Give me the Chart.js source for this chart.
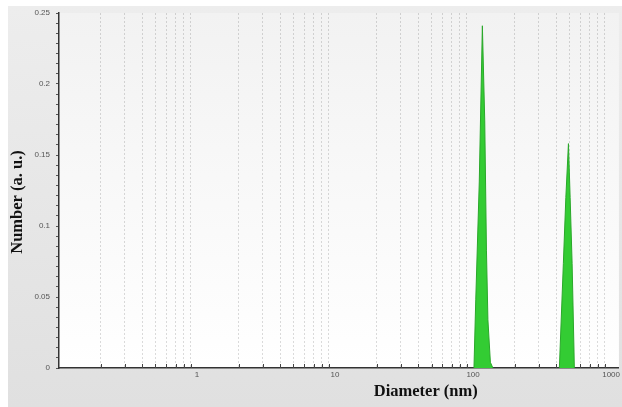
<!DOCTYPE html>
<html>
<head>
<meta charset="utf-8">
<script src="https://cdn.jsdelivr.net/npm/chart.js@4"></script>
<style>
  html, body { margin: 0; padding: 0; background: #fff; }
  #wrap { width: 622px; height: 407px; }
</style>
</head>
<body>
<div id="wrap"><canvas id="sizeChart" width="622" height="407"></canvas></div>
<script>
// --- data ---
const peak1Diameter = [101.5, 104.6, 110.9, 116.8, 121.5, 125.0, 128.1, 133.5, 139.2];
const peak1Number   = [0, 0.048, 0.131, 0.241, 0.174, 0.083, 0.034, 0.004, 0];
const peak2Diameter = [422.0, 451.0, 470.0, 491.0, 505.0, 522.0, 542.0];
const peak2Number   = [0, 0.0735, 0.120, 0.158, 0.120, 0.0735, 0];

const xDecades = [0.1, 1, 10, 100];
const xMinorSteps = [2, 3, 4, 5, 6, 7, 8, 9];
const xTickLabels = ['1', '10', '100', '1000'];
const yTickLabels = ['0', '0.05', '0.1', '0.15', '0.2', '0.25'];
const yMinorPerMajor = 7;

const X_MIN = 0.1, X_MAX = 1140, Y_MAX = 0.25;

// tick values for the log axis (minor ticks + labelled decades)
const xTickValues = [];
xDecades.forEach(d => {
    if (d >= 1) xTickValues.push(d);
    xMinorSteps.forEach(m => xTickValues.push(+(d * m).toPrecision(3)));
});
xTickValues.push(1000);
const isDecade = v => xTickLabels.includes(String(v));

const yTickValues = [];
for (let i = 0; i <= (yTickLabels.length - 1) * yMinorPerMajor; i++) {
    yTickValues.push(Y_MAX * i / ((yTickLabels.length - 1) * yMinorPerMajor));
}

const toPoints = (xs, ys) => xs.map((x, i) => ({ x: x, y: ys[i] }));

// background frame, inside tick marks and axis titles
const framePlugin = {
    id: 'frame',
    beforeDraw(chart) {
        const { ctx, chartArea: a, width, height } = chart;
        ctx.save();
        ctx.fillStyle = '#fff';
        ctx.fillRect(0, 0, width, height);
        let g = ctx.createLinearGradient(0, 6, 0, height);
        g.addColorStop(0, '#ededed');
        g.addColorStop(1, '#e0e0e0');
        ctx.fillStyle = g;
        ctx.fillRect(8, 6, width - 8, height - 6);
        g = ctx.createLinearGradient(0, a.top, 0, a.bottom);
        g.addColorStop(0, '#f2f2f2');
        g.addColorStop(1, '#ffffff');
        ctx.fillStyle = g;
        ctx.fillRect(a.left, a.top, a.right - a.left, a.bottom - a.top);
        ctx.restore();
    },
    beforeDatasetsDraw(chart) {
        const { ctx, chartArea: a } = chart;
        const xs = chart.scales.x;
        ctx.save();
        ctx.strokeStyle = '#444';
        ctx.lineWidth = 1;
        xs.ticks.forEach(t => {
            if (isDecade(t.value)) return;
            const px = Math.round(xs.getPixelForValue(t.value)) + 0.5;
            ctx.beginPath();
            ctx.moveTo(px, a.bottom);
            ctx.lineTo(px, a.bottom - 4);
            ctx.stroke();
        });
        ctx.restore();
    },
    afterDraw(chart) {
        const { ctx, chartArea: a } = chart;
        ctx.save();
        ctx.fillStyle = '#111';
        ctx.font = 'bold 16.5px "Liberation Serif", "Times New Roman", serif';
        ctx.textAlign = 'center';
        ctx.textBaseline = 'middle';
        ctx.fillText('Diameter (nm)', a.left + (a.right - a.left) * 0.655, 392);
        ctx.translate(18, 202);
        ctx.rotate(-Math.PI / 2);
        ctx.fillText('Number (a. u.)', 0, 0);
        ctx.restore();
    }
};

function initChart() {
    const ctx = document.getElementById('sizeChart').getContext('2d');
    const peakStyle = {
        showLine: true,
        fill: 'origin',
        backgroundColor: '#33cc33',
        borderColor: '#2aa82a',
        borderWidth: 1,
        pointRadius: 0,
        tension: 0
    };
    return new Chart(ctx, {
        type: 'scatter',
        data: {
            datasets: [
                Object.assign({ data: toPoints(peak1Diameter, peak1Number) }, peakStyle),
                Object.assign({ data: toPoints(peak2Diameter, peak2Number) }, peakStyle)
            ]
        },
        plugins: [framePlugin],
        options: {
            responsive: false,
            animation: false,
            devicePixelRatio: 1,
            layout: { padding: { left: 0, top: 13, right: 1, bottom: 0 } },
            plugins: { legend: { display: false }, tooltip: { enabled: false } },
            scales: {
                x: {
                    type: 'logarithmic',
                    min: X_MIN,
                    max: X_MAX,
                    afterBuildTicks: s => { s.ticks = xTickValues.map(v => ({ value: v })); },
                    afterFit: s => { s.height = 39; },
                    // in v4 border.dash styles the grid lines, the axis line stays solid
                    border: { color: '#333', width: 1.5, dash: [2, 2] },
                    grid: {
                        drawTicks: false,
                        lineWidth: 1,
                        color: c => (c.tick && isDecade(c.tick.value)) ? 'rgba(0,0,0,0)' : 'rgba(0,0,0,0.14)'
                    },
                    ticks: {
                        autoSkip: false,
                        maxRotation: 0,
                        padding: 2,
                        color: '#555',
                        font: { family: '"Liberation Sans", Arial, sans-serif', size: 8 },
                        callback: v => isDecade(v) ? String(v) : ''
                    }
                },
                y: {
                    min: 0,
                    max: Y_MAX,
                    afterBuildTicks: s => { s.ticks = yTickValues.map(v => ({ value: v })); },
                    afterFit: s => { s.width = 59; },
                    border: { color: '#333', width: 1.5 },
                    grid: { drawOnChartArea: false, drawTicks: true, tickLength: 3, tickColor: '#555' },
                    ticks: {
                        autoSkip: false,
                        padding: 6,
                        color: '#555',
                        font: { family: '"Liberation Sans", Arial, sans-serif', size: 8 },
                        callback: (v, i) => i % yMinorPerMajor === 0 ? yTickLabels[i / yMinorPerMajor] : ''
                    }
                }
            }
        }
    });
}

window.onload = () => {
    initChart();
};
</script>
</body>
</html>
